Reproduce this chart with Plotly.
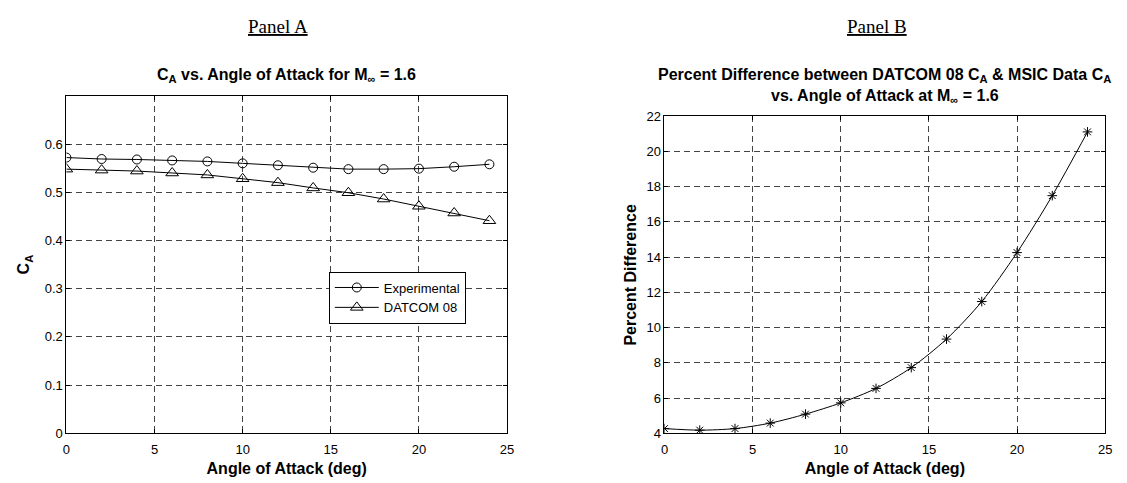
import plotly.graph_objects as go

# Angle of attack (deg)
alpha = [0, 2, 4, 6, 8, 10, 12, 14, 16, 18, 20, 22, 24]

# Axial force coefficient C_A at M = 1.6
ca_experimental = [0.572, 0.569, 0.568, 0.566, 0.564, 0.560, 0.556, 0.551, 0.548, 0.548, 0.549, 0.553, 0.558]
ca_datcom08 = [0.548, 0.546, 0.544, 0.540, 0.536, 0.528, 0.520, 0.509, 0.499, 0.486, 0.471, 0.457, 0.441]

# Percent difference between DATCOM 08 and MSIC data
pct_difference = [4.27, 4.18, 4.27, 4.58, 5.09, 5.73, 6.55, 7.73, 9.35, 11.48, 14.26, 17.49, 21.11]

W, H = 1127, 483
FONT = "Liberation Sans, Arial, sans-serif"
SERIF = "Liberation Serif, Times New Roman, serif"

# plot-area boxes in pixels: (left, right, top, bottom)
BOX_A = (63, 508, 91.7, 440)
BOX_B = (667, 1112, 112.7, 440)


def px_x(p):
    return p / W


def px_y(p):
    return 1 - p / H


fig = go.Figure()

fig.add_trace(go.Scatter(
    x=alpha, y=ca_experimental, name="Experimental", mode="lines+markers",
    line=dict(color="black", width=1),
    marker=dict(symbol="circle-open", size=9, color="black", line=dict(width=1)),
    xaxis="x", yaxis="y",
))
fig.add_trace(go.Scatter(
    x=alpha, y=ca_datcom08, name="DATCOM 08", mode="lines+markers",
    line=dict(color="black", width=1),
    marker=dict(symbol="triangle-up-open", size=11, color="black", line=dict(width=1)),
    xaxis="x", yaxis="y",
))
fig.add_trace(go.Scatter(
    x=alpha, y=pct_difference, name="Percent Difference", mode="lines+markers",
    line=dict(color="black", width=1, shape="spline", smoothing=0.8),
    marker=dict(symbol="asterisk-open", size=8, color="black", line=dict(width=1, color="black")),
    xaxis="x2", yaxis="y2", showlegend=False,
))

axis_common = dict(
    showline=True, linecolor="black", linewidth=1, mirror="ticks",
    ticks="inside", ticklen=4, tickcolor="black",
    showgrid=True, gridcolor="#444", gridwidth=1, griddash="6px,4px",
    zeroline=False, tickfont=dict(family=FONT, size=13, color="black"),
)
title_font = dict(family=FONT, size=16, color="black")

fig.update_layout(
    width=W, height=H,
    margin=dict(l=0, r=0, t=0, b=0),
    paper_bgcolor="white", plot_bgcolor="white",
    xaxis=dict(domain=[px_x(BOX_A[0]), px_x(BOX_A[1])], range=[0, 25], dtick=5, anchor="y",
               ticklabelstandoff=4,
               title=dict(text="<b>Angle of Attack (deg)</b>", font=title_font, standoff=6),
               **axis_common),
    yaxis=dict(domain=[px_y(BOX_A[3]), px_y(BOX_A[2])], range=[0, 0.7],
               tickvals=[0, 0.1, 0.2, 0.3, 0.4, 0.5, 0.6],
               ticktext=["0", "0.1", "0.2", "0.3", "0.4", "0.5", "0.6"], anchor="x",
               **axis_common),
    xaxis2=dict(domain=[px_x(BOX_B[0]), px_x(BOX_B[1])], range=[0, 25], dtick=5, anchor="y2",
                ticklabelstandoff=4,
                title=dict(text="<b>Angle of Attack (deg)</b>", font=title_font, standoff=6),
                **axis_common),
    yaxis2=dict(domain=[px_y(BOX_B[3]), px_y(BOX_B[2])], range=[4, 22], dtick=2, anchor="x2",
                **axis_common),
    legend=dict(
        x=px_x(328), y=px_y(273), xanchor="left", yanchor="top",
        bgcolor="white", bordercolor="black", borderwidth=1,
        font=dict(family=FONT, size=13, color="black"),
        tracegroupgap=0, itemwidth=44,
    ),
    showlegend=True,
)

annotations = [
    dict(text="<u>Panel A</u>", x=px_x(277), y=px_y(20), font=dict(family=SERIF, size=19, color="black")),
    dict(text="<u>Panel B</u>", x=px_x(882), y=px_y(20), font=dict(family=SERIF, size=19, color="black")),
    dict(text="<b>C<sub>A</sub> vs. Angle of Attack for M<sub>\u221e</sub> = 1.6</b>",
         x=px_x(285.5), y=px_y(71), font=dict(family=FONT, size=16, color="black")),
    dict(text="<b>Percent Difference between DATCOM 08 C<sub>A</sub> &amp; MSIC Data C<sub>A</sub></b>",
         x=px_x(889.5), y=px_y(71), font=dict(family=FONT, size=16, color="black")),
    dict(text="<b>vs. Angle of Attack at M<sub>\u221e</sub> = 1.6</b>",
         x=px_x(889.5), y=px_y(92), font=dict(family=FONT, size=16, color="black")),
    dict(text="<b>C<sub>A</sub></b>", x=px_x(21), y=px_y((BOX_A[2] + BOX_A[3]) / 2),
         textangle=-90, font=title_font),
    dict(text="<b>Percent Difference</b>", x=px_x(633), y=px_y((BOX_B[2] + BOX_B[3]) / 2),
         textangle=-90, font=title_font),
]
for a in annotations:
    fig.add_annotation(xref="paper", yref="paper", showarrow=False,
                       xanchor="center", yanchor="middle", **a)

fig.write_html("out.html")
